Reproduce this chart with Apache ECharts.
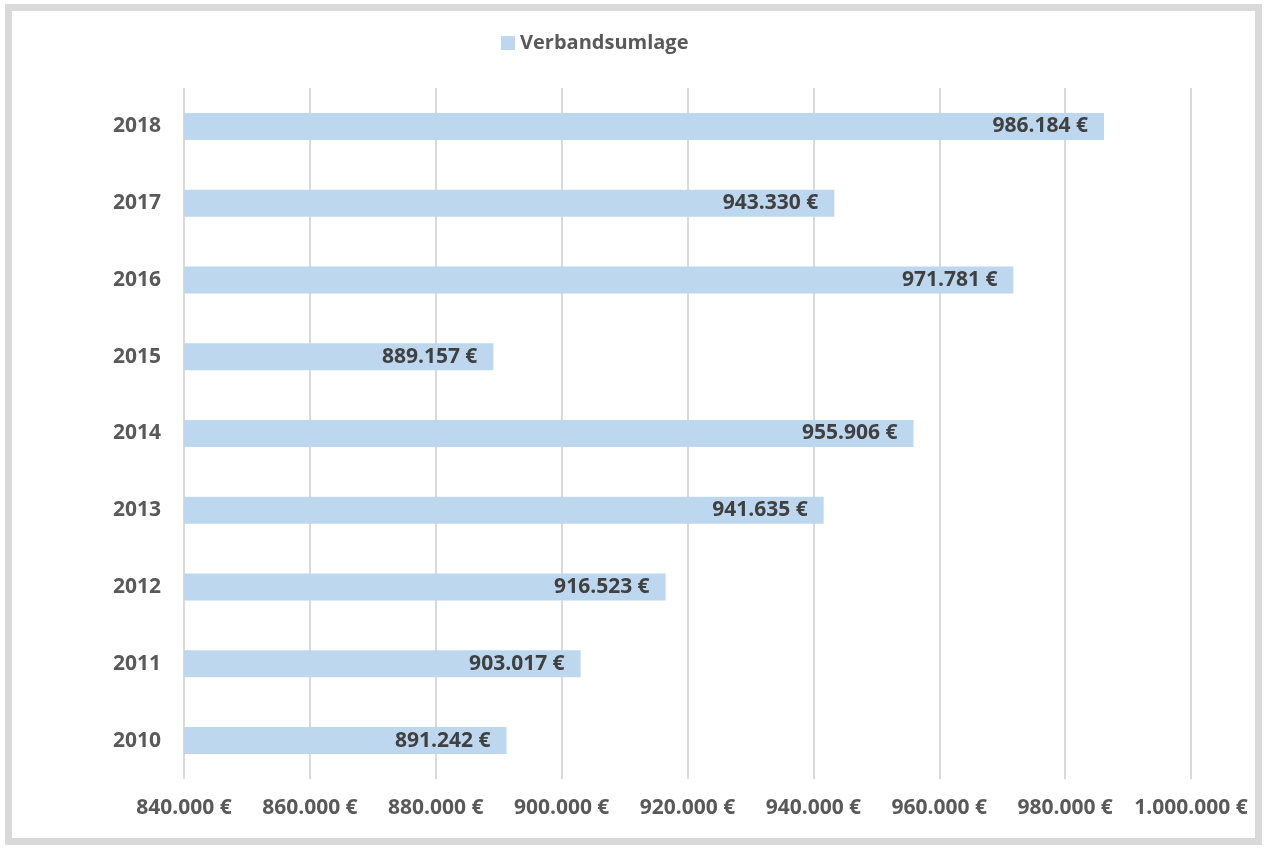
<!DOCTYPE html>
<html lang="de">
<head>
  <meta charset="UTF-8">
  <title>Verbandsumlage</title>
  <style>
  html, body { margin: 0; padding: 0; background: #fff; }
  #main {
    position: absolute;
    left: 5px;
    top: 4px;
    width: 1243px;
    height: 827px;
    border: 7px solid #d9d9d9;
    background: #fff;
  }
  </style>
  <script src="https://cdn.jsdelivr.net/npm/echarts@6/dist/echarts.min.js"></script>
</head>
<body>
  <div id="main"></div>
  <script>
  var years = ['2010', '2011', '2012', '2013', '2014', '2015', '2016', '2017', '2018']
  var umlage = [891242, 903017, 916523, 941635, 955906, 889157, 971781, 943330, 986184]
  var xMin = 840000
  var xMax = 1000000
  var xStep = 20000

  var font = '"Open Sans", Lato, sans-serif'

  function euro(v) {
    return String(Math.round(v)).replace(/\B(?=(\d{3})+(?!\d))/g, '.') + ' €'
  }

  var chart = echarts.init(document.getElementById('main'))
  chart.setOption({
    animation: false,
    textStyle: { fontFamily: font },
    legend: {
      data: ['Verbandsumlage'],
      top: 17,
      left: 484,
      itemWidth: 14,
      itemHeight: 14,
      itemGap: 5,
      icon: 'rect',
      textStyle: { color: '#595959', fontSize: 20, fontWeight: 'bold', fontFamily: font }
    },
    grid: {
      left: 172,
      right: 64,
      top: 77,
      bottom: 59
    },
    xAxis: {
      type: 'value',
      min: xMin,
      max: xMax,
      interval: xStep,
      axisLine: { show: false },
      axisTick: { show: false },
      splitLine: { lineStyle: { color: '#d9d9d9', width: 2 } },
      axisLabel: {
        formatter: euro,
        color: '#595959',
        fontSize: 21,
        fontWeight: 'bold',
        fontFamily: font,
        margin: 19
      }
    },
    yAxis: {
      type: 'category',
      data: years,
      axisLine: { show: false },
      axisTick: { show: false },
      axisLabel: {
        color: '#595959',
        fontSize: 21,
        fontWeight: 'bold',
        fontFamily: font,
        margin: 23
      }
    },
    series: [{
      name: 'Verbandsumlage',
      type: 'bar',
      data: umlage,
      barWidth: 27,
      itemStyle: { color: '#bdd7ee' },
      label: {
        show: true,
        position: 'insideRight',
        distance: 16,
        formatter: function (p) { return euro(p.value) },
        color: '#404040',
        fontSize: 21,
        fontWeight: 'bold',
        fontFamily: font
      }
    }]
  })
  </script>
</body>
</html>
